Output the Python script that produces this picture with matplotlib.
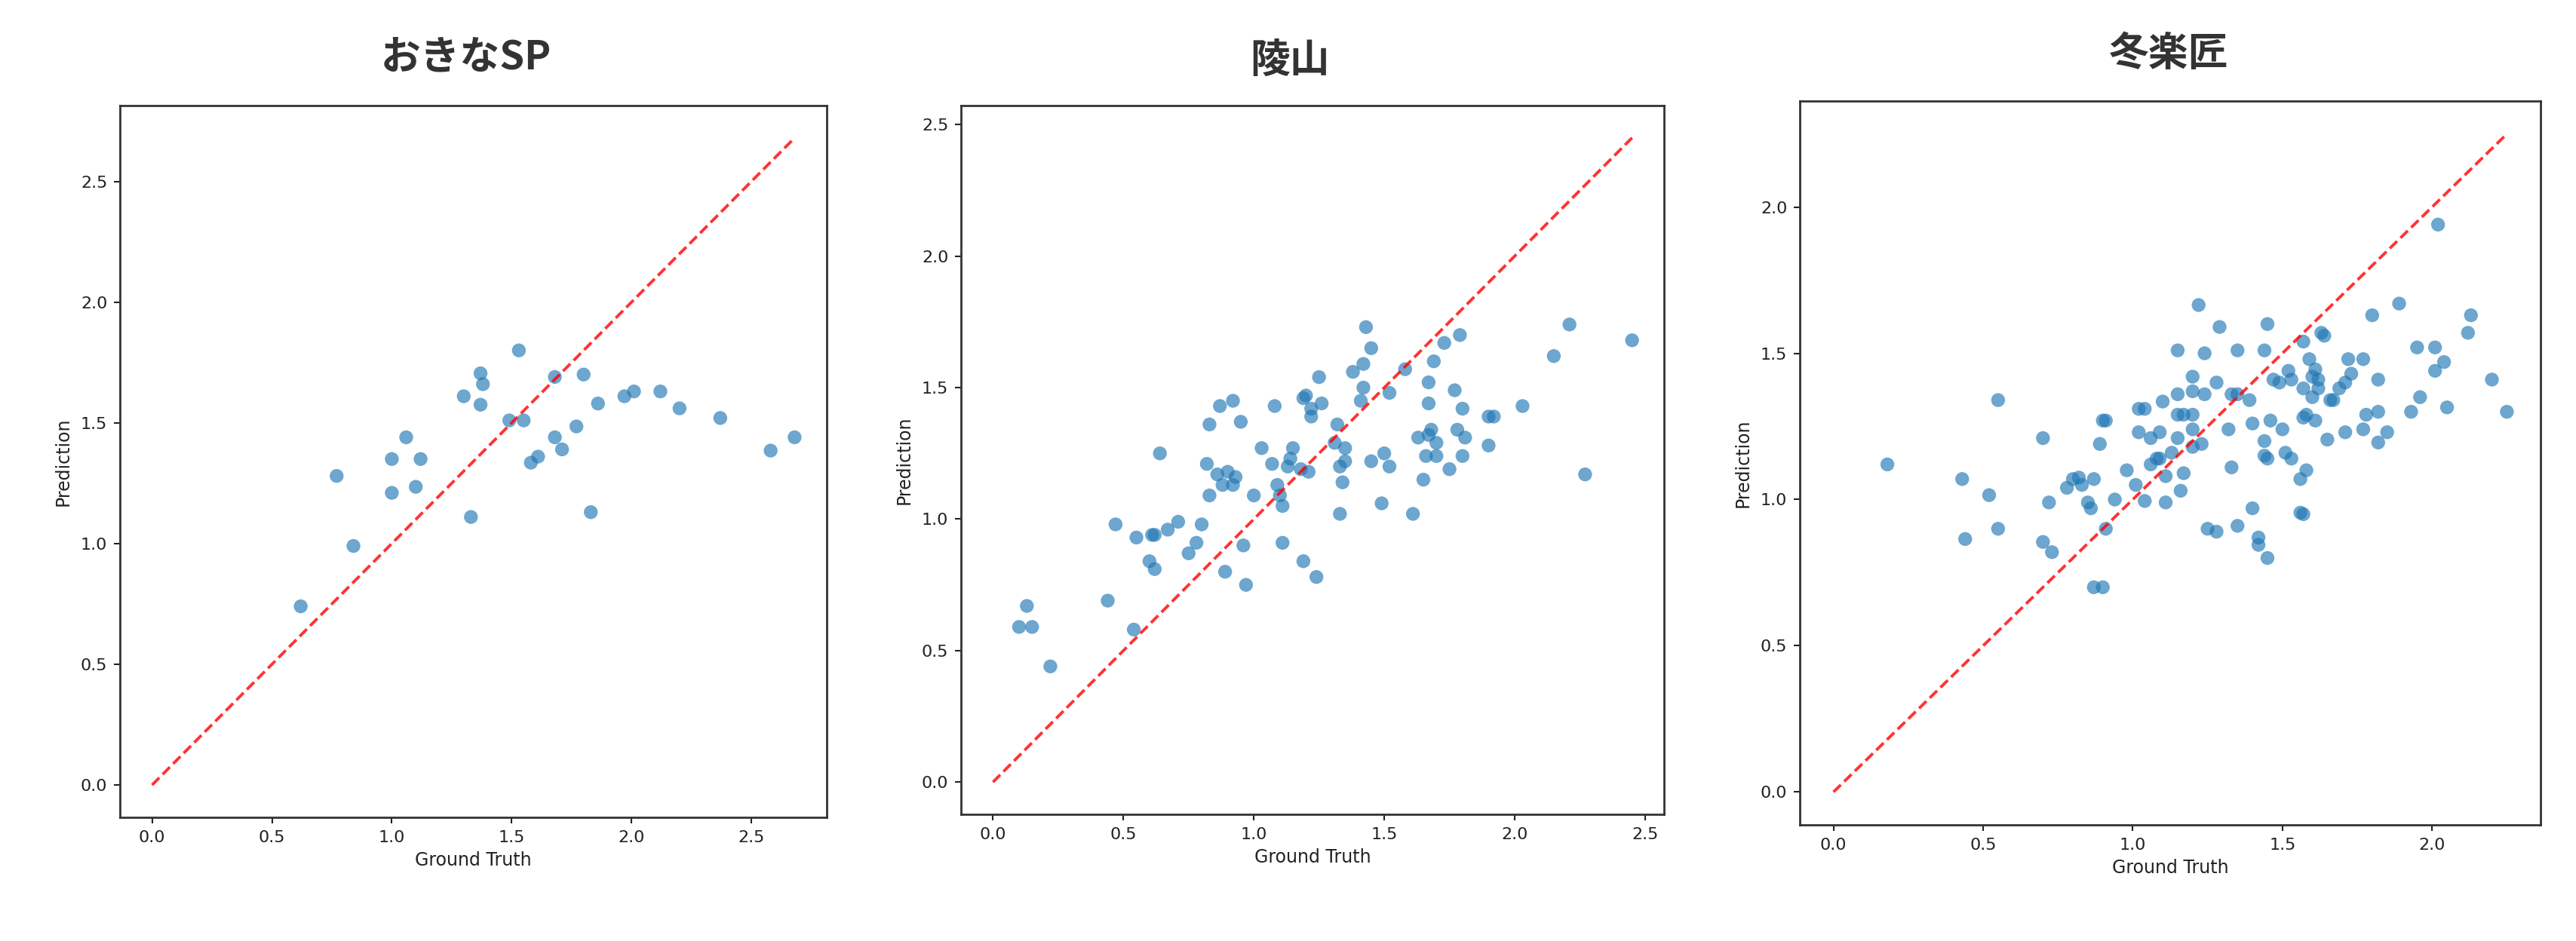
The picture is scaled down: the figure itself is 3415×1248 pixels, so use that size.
import numpy as np
import matplotlib
matplotlib.use("Agg")
import matplotlib.pyplot as plt

# ---- data ----
titles = ["おきなSP", "陵山", "冬楽匠"]

okina_gt = [0.62, 0.77, 0.84, 1.00, 1.00, 1.06, 1.10, 1.12, 1.30, 1.33, 1.37, 1.38,
            1.37, 1.53, 1.49, 1.55, 1.58, 1.61, 1.68, 1.68, 1.71, 1.77, 1.80, 1.83,
            1.86, 1.97, 2.01, 2.12, 2.20, 2.37, 2.58, 2.68]
okina_pred = [0.74, 1.28, 0.99, 1.35, 1.21, 1.44, 1.235, 1.35, 1.61, 1.11, 1.705, 1.66,
              1.575, 1.80, 1.51, 1.51, 1.335, 1.36, 1.69, 1.44, 1.39, 1.485, 1.70, 1.13,
              1.58, 1.61, 1.63, 1.63, 1.56, 1.52, 1.385, 1.44]

ryozan_gt = [0.10, 0.13, 0.15, 0.22, 0.44, 0.47, 0.54, 0.55, 0.61, 0.62, 0.60, 0.62,
             0.64, 0.67, 0.71, 0.75, 0.78, 0.80, 0.82, 0.83, 0.83, 0.87, 0.86, 0.88,
             0.90, 0.92, 0.93, 0.89, 0.92, 0.95, 0.96, 0.97, 1.00, 1.03, 1.07, 1.08,
             1.09, 1.10, 1.11, 1.11, 1.13, 1.14, 1.15, 1.18, 1.19, 1.19, 1.20, 1.21,
             1.22, 1.22, 1.24, 1.25, 1.26, 1.32, 1.31, 1.33, 1.33, 1.34, 1.35, 1.35,
             1.38, 1.41, 1.42, 1.42, 1.43, 1.45, 1.45, 1.49, 1.50, 1.52, 1.52, 1.58,
             1.61, 1.63, 1.65, 1.66, 1.67, 1.67, 1.67, 1.68, 1.69, 1.70, 1.70, 1.73,
             1.75, 1.77, 1.78, 1.79, 1.80, 1.80, 1.81, 1.90, 1.92, 1.90, 2.03, 2.15,
             2.21, 2.27, 2.45]
ryozan_pred = [0.59, 0.67, 0.59, 0.44, 0.69, 0.98, 0.58, 0.93, 0.94, 0.94, 0.84, 0.81,
               1.25, 0.96, 0.99, 0.87, 0.91, 0.98, 1.21, 1.09, 1.36, 1.43, 1.17, 1.13,
               1.18, 1.13, 1.16, 0.80, 1.45, 1.37, 0.90, 0.75, 1.09, 1.27, 1.21, 1.43,
               1.13, 1.09, 1.05, 0.91, 1.20, 1.23, 1.27, 1.19, 0.84, 1.46, 1.47, 1.18,
               1.39, 1.42, 0.78, 1.54, 1.44, 1.36, 1.29, 1.20, 1.02, 1.14, 1.27, 1.22,
               1.56, 1.45, 1.50, 1.59, 1.73, 1.65, 1.22, 1.06, 1.25, 1.48, 1.20, 1.57,
               1.02, 1.31, 1.15, 1.24, 1.52, 1.44, 1.32, 1.34, 1.60, 1.29, 1.24, 1.67,
               1.19, 1.49, 1.34, 1.70, 1.42, 1.24, 1.31, 1.39, 1.39, 1.28, 1.43, 1.62,
               1.74, 1.17, 1.68]

toraku_gt = [0.18, 0.43, 0.44, 0.52, 0.55, 0.55, 0.70, 0.70, 0.72, 0.73, 0.78, 0.80,
             0.82, 0.83, 0.85, 0.86, 0.87, 0.87, 0.90, 0.89, 0.90, 0.91, 0.91, 0.94,
             0.98, 1.01, 1.02, 1.04, 1.02, 1.04, 1.06, 1.09, 1.10, 1.06, 1.08, 1.09,
             1.11, 1.11, 1.13, 1.15, 1.15, 1.15, 1.15, 1.17, 1.16, 1.17, 1.20, 1.20,
             1.20, 1.20, 1.20, 1.22, 1.23, 1.24, 1.24, 1.25, 1.28, 1.28, 1.29, 1.32,
             1.33, 1.33, 1.35, 1.35, 1.35, 1.39, 1.40, 1.40, 1.42, 1.42, 1.44, 1.44,
             1.44, 1.45, 1.45, 1.45, 1.46, 1.47, 1.49, 1.50, 1.51, 1.52, 1.53, 1.53,
             1.56, 1.56, 1.57, 1.57, 1.57, 1.57, 1.58, 1.58, 1.59, 1.60, 1.60, 1.61,
             1.61, 1.62, 1.62, 1.63, 1.64, 1.65, 1.66, 1.67, 1.69, 1.71, 1.71, 1.72,
             1.73, 1.77, 1.77, 1.78, 1.80, 1.82, 1.82, 1.82, 1.85, 1.89, 1.93, 1.95,
             1.96, 2.01, 2.01, 2.02, 2.04, 2.05, 2.12, 2.13, 2.20, 2.25]
toraku_pred = [1.12, 1.07, 0.865, 1.015, 1.34, 0.90, 1.21, 0.855, 0.99, 0.82, 1.04, 1.07,
               1.075, 1.05, 0.99, 0.97, 1.07, 0.70, 0.70, 1.19, 1.27, 1.27, 0.90, 1.00,
               1.10, 1.05, 1.31, 1.31, 1.23, 0.995, 1.21, 1.23, 1.335, 1.12, 1.14, 1.14,
               1.08, 0.99, 1.16, 1.51, 1.36, 1.21, 1.29, 1.29, 1.03, 1.09, 1.18, 1.24,
               1.42, 1.37, 1.29, 1.665, 1.19, 1.36, 1.50, 0.90, 0.89, 1.40, 1.59, 1.24,
               1.11, 1.36, 0.91, 1.51, 1.36, 1.34, 0.97, 1.26, 0.87, 0.845, 1.51, 1.20,
               1.15, 1.14, 1.60, 0.80, 1.27, 1.41, 1.40, 1.24, 1.16, 1.44, 1.41, 1.14,
               1.07, 0.955, 0.95, 1.54, 1.38, 1.28, 1.29, 1.10, 1.48, 1.35, 1.42, 1.445,
               1.27, 1.38, 1.41, 1.57, 1.56, 1.205, 1.34, 1.34, 1.38, 1.40, 1.23, 1.48,
               1.43, 1.48, 1.24, 1.29, 1.63, 1.30, 1.41, 1.195, 1.23, 1.67, 1.30, 1.52,
               1.35, 1.52, 1.44, 1.94, 1.47, 1.315, 1.57, 1.63, 1.41, 1.30]

panels = [
    (okina_gt, okina_pred),
    (ryozan_gt, ryozan_pred),
    (toraku_gt, toraku_pred),
]

# ---- layout (pixels in a 3416x1248 canvas) ----
W, H = 3416, 1248
axes_px = [
    (159, 140, 1096, 1084),
    (1274, 140, 2206, 1080),
    (2386, 134, 3368, 1094),
]
title_px = [(618, 76), (1710, 80), (2875, 72)]

plt.rcParams["font.family"] = ["DejaVu Sans"]
fig = plt.figure(figsize=(W / 100, H / 100), dpi=100)

for (gt, pred), (l, t, r, b), title, (tx, ty) in zip(panels, axes_px, titles, title_px):
    ax = fig.add_axes([l / W, 1 - b / H, (r - l) / W, (b - t) / H])
    gt = np.array(gt)
    pred = np.array(pred)
    ax.scatter(gt, pred, s=175, color="#1f77b4", alpha=0.65, edgecolors="none")
    lim = max(gt.max(), pred.max())
    ax.plot([0, lim], [0, lim], linestyle="--", color="red", alpha=0.8, lw=2.8,
            dashes=(3.5, 1.6))
    ax.set_xlabel("Ground Truth", fontsize=17, color="#222222", labelpad=6)
    ax.set_ylabel("Prediction", fontsize=17, color="#222222", labelpad=8)
    ax.tick_params(labelsize=16, colors="#222222", length=6, width=1.5, pad=6)
    for sp in ax.spines.values():
        sp.set_linewidth(2)
        sp.set_color("#333333")
    fig.text(tx / W, 1 - ty / H, title, ha="center", va="center", fontsize=38,
             fontweight="bold", color="#333333",
             family=["Noto Sans CJK JP", "DejaVu Sans"])

fig.savefig("out.png", dpi=100, facecolor="white")
